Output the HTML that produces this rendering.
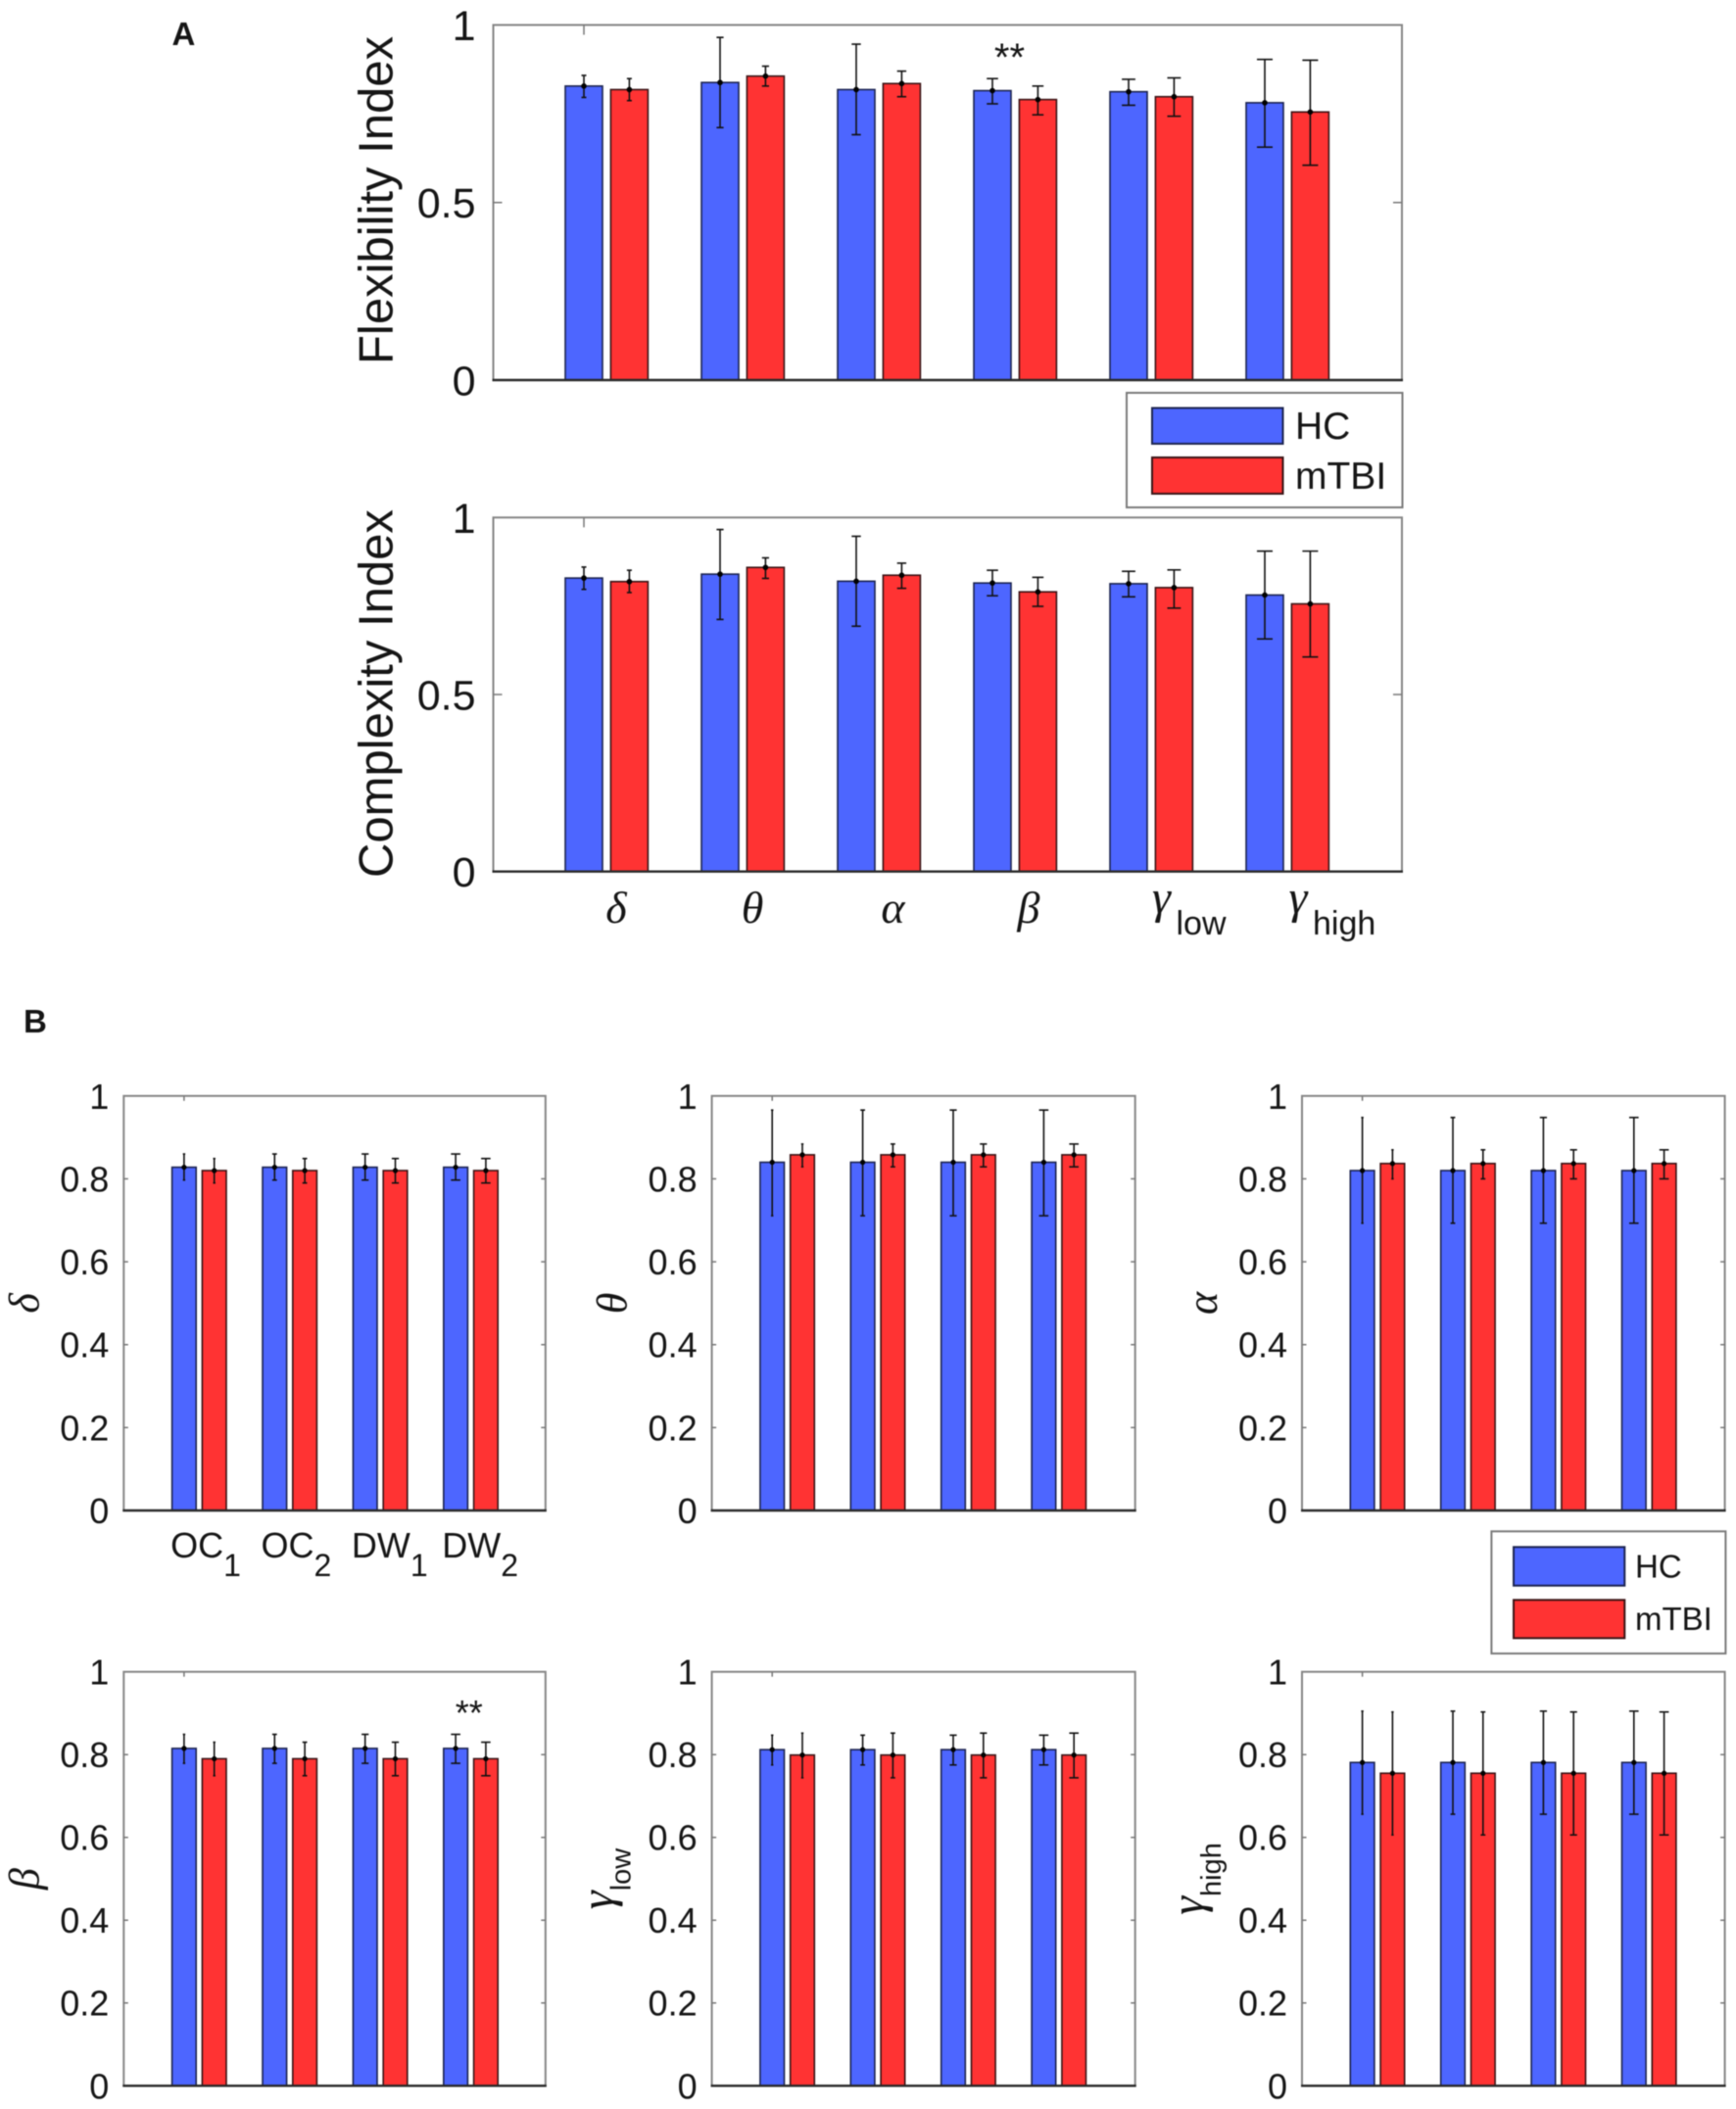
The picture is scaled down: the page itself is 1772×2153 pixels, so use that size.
<!DOCTYPE html>
<html lang="en">
<head>
<meta charset="utf-8">
<title>Flexibility and complexity index bar charts</title>
<style>
html,body{margin:0;padding:0;background:#fff;}
#figure{display:block;width:1772px;height:2153px;background:#fff;filter:blur(0.45px);}
text{font-family:"Liberation Sans",sans-serif;fill:#151515;}
.greek{font-family:"Liberation Serif",serif;font-style:italic;}
</style>
</head>
<body>
<svg id="figure" xmlns="http://www.w3.org/2000/svg" width="1772" height="2153" viewBox="0 0 1772 2153"></svg>
<script>
/* ---------- data: panel A (one value per frequency band) ---------- */
const bandLabels = ["δ", "θ", "α", "β", "γ", "γ"];
const bandSubs = ["", "", "", "", "low", "high"];
const tickLabelsA = ["0", "0.5", "1"];
const tickLabelsB = ["0", "0.2", "0.4", "0.6", "0.8", "1"];
const conditionLabels = ["OC", "OC", "DW", "DW"];
const conditionSubs = ["1", "2", "1", "2"];
const groupNames = ["HC", "mTBI"];

const flexHCMean = [0.828, 0.838, 0.818, 0.815, 0.812, 0.781];
const flexHCUpper = [0.858, 0.965, 0.946, 0.849, 0.847, 0.903];
const flexHCLower = [0.796, 0.711, 0.691, 0.778, 0.774, 0.656];
const flexMTBIMean = [0.818, 0.856, 0.835, 0.790, 0.798, 0.755];
const flexMTBIUpper = [0.849, 0.884, 0.870, 0.828, 0.851, 0.901];
const flexMTBILower = [0.787, 0.828, 0.798, 0.747, 0.743, 0.605];

const compHCMean = [0.829, 0.840, 0.820, 0.815, 0.813, 0.781];
const compHCUpper = [0.860, 0.966, 0.947, 0.851, 0.848, 0.905];
const compHCLower = [0.797, 0.712, 0.693, 0.779, 0.776, 0.657];
const compMTBIMean = [0.819, 0.859, 0.837, 0.790, 0.802, 0.756];
const compMTBIUpper = [0.851, 0.886, 0.871, 0.831, 0.852, 0.905];
const compMTBILower = [0.788, 0.828, 0.800, 0.749, 0.744, 0.606];

/* ---------- data: panel B (rows = bands, columns = OC1, OC2, DW1, DW2) ---------- */
const condHCMean = [
  [0.828, 0.828, 0.828, 0.828],
  [0.840, 0.840, 0.840, 0.840],
  [0.820, 0.820, 0.820, 0.820],
  [0.815, 0.815, 0.815, 0.815],
  [0.812, 0.812, 0.812, 0.812],
  [0.781, 0.781, 0.781, 0.781]
];
const condHCUpper = [
  [0.860, 0.860, 0.860, 0.860],
  [0.966, 0.966, 0.966, 0.966],
  [0.948, 0.948, 0.948, 0.948],
  [0.849, 0.849, 0.849, 0.849],
  [0.847, 0.847, 0.847, 0.847],
  [0.905, 0.905, 0.905, 0.905]
];
const condHCLower = [
  [0.797, 0.797, 0.797, 0.797],
  [0.711, 0.711, 0.711, 0.711],
  [0.693, 0.693, 0.693, 0.693],
  [0.779, 0.779, 0.779, 0.779],
  [0.775, 0.775, 0.775, 0.775],
  [0.656, 0.656, 0.656, 0.656]
];
const condMTBIMean = [
  [0.820, 0.820, 0.820, 0.820],
  [0.858, 0.858, 0.858, 0.858],
  [0.837, 0.837, 0.837, 0.837],
  [0.790, 0.790, 0.790, 0.790],
  [0.799, 0.799, 0.799, 0.799],
  [0.755, 0.755, 0.755, 0.755]
];
const condMTBIUpper = [
  [0.849, 0.849, 0.849, 0.849],
  [0.884, 0.884, 0.884, 0.884],
  [0.870, 0.870, 0.870, 0.870],
  [0.830, 0.830, 0.830, 0.830],
  [0.852, 0.852, 0.852, 0.852],
  [0.903, 0.903, 0.903, 0.903]
];
const condMTBILower = [
  [0.790, 0.790, 0.790, 0.790],
  [0.829, 0.829, 0.829, 0.829],
  [0.800, 0.800, 0.800, 0.800],
  [0.749, 0.749, 0.749, 0.749],
  [0.744, 0.744, 0.744, 0.744],
  [0.606, 0.606, 0.606, 0.606]
];

/* ---------- drawing helpers ---------- */
const SVG_NS = "http://www.w3.org/2000/svg";
const root = document.getElementById("figure");
const BLUE = "#4d66ff", RED = "#ff3333", BLUE_EDGE = "#1c2450", RED_EDGE = "#3a1416";

function make(parent, tag, attrs, name, text) {
  const el = document.createElementNS(SVG_NS, tag);
  for (const k in attrs) el.setAttribute(k, attrs[k]);
  
  
  if (text !== undefined) el.textContent = text;
  parent.appendChild(el);
  return el;
}

function linear(d0, d1, r0, r1) {
  return v => r0 + (v - d0) / (d1 - d0) * (r1 - r0);
}

function drawAxes(g, box, y, ticks, fs, tickLen, labelGap) {
  make(g, "rect", {x: box.left, y: box.top, width: box.right - box.left, height: box.bottom - box.top,
    fill: "none", stroke: "#858585", "stroke-width": 2}, "axes-frame");
  ticks.forEach(t => {
    const py = y(parseFloat(t));
    if (parseFloat(t) > 0 && parseFloat(t) < 1) {
      make(g, "line", {x1: box.left, x2: box.left + tickLen, y1: py, y2: py, stroke: "#777", "stroke-width": 1.5}, "y-tick-left");
      make(g, "line", {x1: box.right, x2: box.right - tickLen, y1: py, y2: py, stroke: "#777", "stroke-width": 1.5}, "y-tick-right");
    }
    make(g, "text", {x: box.left - labelGap, y: py + fs * 0.36, "text-anchor": "end", "font-size": fs}, "y-tick-label", t);
  });
}

function drawSeries(g, box, x, y, means, uppers, lowers, color, edge, barW, offset, capBase, capStep, groupName) {
  means.forEach((m, i) => {
    const left = x(i) + offset;
    make(g, "rect", {x: left, y: y(m), width: barW, height: y(0) - y(m), fill: color, stroke: edge, "stroke-width": 1.6},
      "bar-" + groupName + "-" + i);
  });
  means.forEach((m, i) => {
    const cx = x(i) + offset + barW / 2;
    const cap = capBase + capStep * i;
    make(g, "line", {x1: cx, x2: cx, y1: y(uppers[i]), y2: y(lowers[i]), stroke: "#111", "stroke-width": 1.6}, "error-bar-" + groupName);
    make(g, "line", {x1: cx - cap, x2: cx + cap, y1: y(uppers[i]), y2: y(uppers[i]), stroke: "#111", "stroke-width": 1.6}, "error-cap-upper-" + groupName);
    make(g, "line", {x1: cx - cap, x2: cx + cap, y1: y(lowers[i]), y2: y(lowers[i]), stroke: "#111", "stroke-width": 1.6}, "error-cap-lower-" + groupName);
    make(g, "circle", {cx: cx, cy: y(m), r: barW > 30 ? 2.8 : 2.6, fill: "#000"}, "mean-marker-" + groupName);
  });
}

function drawBaseline(g, box) {
  make(g, "line", {x1: box.left - 1, x2: box.right + 1, y1: box.bottom, y2: box.bottom, stroke: "#2a2a2a", "stroke-width": 2.4}, "x-axis-baseline");
}

function drawLegend(box, sw1, sw2, textX, base1, base2, fs) {
  const g = make(root, "g", {}, "legend");
  make(g, "rect", {x: box.x, y: box.y, width: box.w, height: box.h, fill: "#fff", stroke: "#7a7a7a", "stroke-width": 2}, "legend-frame");
  make(g, "rect", {x: sw1.x, y: sw1.y, width: sw1.w, height: sw1.h, fill: BLUE, stroke: BLUE_EDGE, "stroke-width": 2}, "legend-swatch-hc");
  make(g, "rect", {x: sw2.x, y: sw2.y, width: sw2.w, height: sw2.h, fill: RED, stroke: RED_EDGE, "stroke-width": 2}, "legend-swatch-mtbi");
  make(g, "text", {x: textX, y: base1, "font-size": fs}, "legend-label-hc", groupNames[0]);
  make(g, "text", {x: textX, y: base2, "font-size": fs}, "legend-label-mtbi", groupNames[1]);
}

/* ---------- panel letters ---------- */
make(root, "text", {x: 175.5, y: 46, "font-size": 33, "font-weight": "bold", fill: "#000"}, "panel-label-a", "A");
make(root, "text", {x: 24, y: 1054, "font-size": 33, "font-weight": "bold", fill: "#000"}, "panel-label-b", "B");

/* ---------- panel A ---------- */
function drawPanelA(box, name, title, titleBottom, hm, hu, hl, mm, mu, ml) {
  const g = make(root, "g", {}, name);
  const y = linear(0, 1, box.bottom, box.top);
  const x = i => 577 + 139 * i;
  drawAxes(g, box, y, tickLabelsA, 43, 9, 18);
  make(g, "line", {x1: x(0) + 19, x2: x(0) + 19, y1: box.top, y2: box.top + 10, stroke: "#777", "stroke-width": 1.5}, "x-tick-top");
  drawSeries(g, box, x, y, hm, hu, hl, BLUE, BLUE_EDGE, 38, 0, 2.5, 1.1, "hc");
  drawSeries(g, box, x, y, mm, mu, ml, RED, RED_EDGE, 38, 46.4, 2.5, 1.1, "mtbi");
  drawBaseline(g, box);
  make(g, "text", {transform: "translate(400.5," + titleBottom + ") rotate(-90)", "font-size": 49}, "y-axis-title", title);
  return x;
}

const boxA1 = {left: 503.5, right: 1431, top: 25.5, bottom: 388};
const boxA2 = {left: 503.5, right: 1431, top: 528.3, bottom: 889.7};
drawPanelA(boxA1, "flexibility-chart", "Flexibility Index", 372, flexHCMean, flexHCUpper, flexHCLower, flexMTBIMean, flexMTBIUpper, flexMTBILower);
drawPanelA(boxA2, "complexity-chart", "Complexity Index", 896, compHCMean, compHCUpper, compHCLower, compMTBIMean, compMTBIUpper, compMTBILower);

make(root, "text", {x: 1030.5, y: 72, "text-anchor": "middle", "font-size": 40, fill: "#000"}, "significance-marker-beta", "**");

drawLegend({x: 1150, y: 401, w: 281.5, h: 117},
  {x: 1176, y: 416.5, w: 133.5, h: 36.5}, {x: 1176, y: 467, w: 133.5, h: 37}, 1322, 448, 499, 39);

/* x-axis band labels under panel A, aligned to each bar pair */
bandLabels.forEach((label, i) => {
  const cx = 629 + 139 * i + (i === 2 ? 4.5 : 0) + (i === 3 ? 4 : 0);
  if (bandSubs[i]) {
    const gx = 1176 + 139.5 * (i - 4);
    const g = make(root, "g", {}, "x-tick-label-" + bandSubs[i]);
    make(g, "text", {x: gx, y: 932, "font-size": 48, "class": "greek"}, "x-tick-symbol", label);
    make(g, "text", {x: gx + 24.5, y: 954, "font-size": 34}, "x-tick-subscript", bandSubs[i]);
  } else {
    make(root, "text", {x: cx, y: 942, "text-anchor": "middle", "font-size": 46, "class": "greek"}, "x-tick-label", label);
  }
});

/* ---------- panel B ---------- */
const colLefts = [126.3, 726.6, 1329];
const colRights = [556.8, 1158.7, 1760.6];
const rowTops = [1118.8, 1706.7];
const rowBottoms = [1542, 2129.3];

bandLabels.forEach((label, b) => {
  const col = b % 3, row = Math.floor(b / 3);
  const box = {left: colLefts[col], right: colRights[col], top: rowTops[row], bottom: rowBottoms[row]};
  const g = make(root, "g", {}, "band-chart-" + (bandSubs[b] || label));
  const y = linear(0, 1, box.bottom, box.top);
  const x = i => box.left + 49.3 + 92.4 * i;
  drawAxes(g, box, y, tickLabelsB, 36, 4.5, 15);
  make(g, "line", {x1: x(0) + 12.3, x2: x(0) + 12.3, y1: box.top, y2: box.top + 5, stroke: "#777", "stroke-width": 1.5}, "x-tick-top");
  drawSeries(g, box, x, y, condHCMean[b], condHCUpper[b], condHCLower[b], BLUE, BLUE_EDGE, 24.6, 0, 1.2, 1.2, "hc");
  drawSeries(g, box, x, y, condMTBIMean[b], condMTBIUpper[b], condMTBILower[b], RED, RED_EDGE, 24.6, 30.8, 1.2, 1.2, "mtbi");
  drawBaseline(g, box);
  const midY = (box.top + box.bottom) / 2;
  if (bandSubs[b]) {
    const t = make(g, "text", {transform: "translate(" + (box.left - 83) + "," + midY + ") rotate(-90)", "text-anchor": "middle"}, "y-axis-title");
    make(t, "tspan", {"font-size": 48, "class": "greek", dy: -18}, "y-axis-title-symbol", label);
    make(t, "tspan", {"font-size": 29, dy: 18}, "y-axis-title-subscript", bandSubs[b]);
  } else {
    make(g, "text", {transform: "translate(" + (box.left - 87) + "," + midY + ") rotate(-90)", "text-anchor": "middle", "font-size": 44, "class": "greek"}, "y-axis-title", label);
  }
  if (b === 0) {
    conditionLabels.forEach((c, i) => {
      const t = make(g, "text", {x: x(i) - 1.5, y: 1590, "font-size": 36}, "x-tick-label-" + c + conditionSubs[i], c);
      make(t, "tspan", {"font-size": 32, dy: 19}, "x-tick-subscript", conditionSubs[i]);
    });
  }
  if (b === 3) {
    make(g, "text", {x: x(3) + 26, y: 1761, "text-anchor": "middle", "font-size": 36, fill: "#000"}, "significance-marker-beta", "**");
  }
});

drawLegend({x: 1522.4, y: 1563.3, w: 239, h: 124.7},
  {x: 1545, y: 1579.3, w: 113.3, h: 39.4}, {x: 1545, y: 1633.3, w: 113.3, h: 39}, 1669, 1610.7, 1664, 33);
</script>
</body>
</html>
